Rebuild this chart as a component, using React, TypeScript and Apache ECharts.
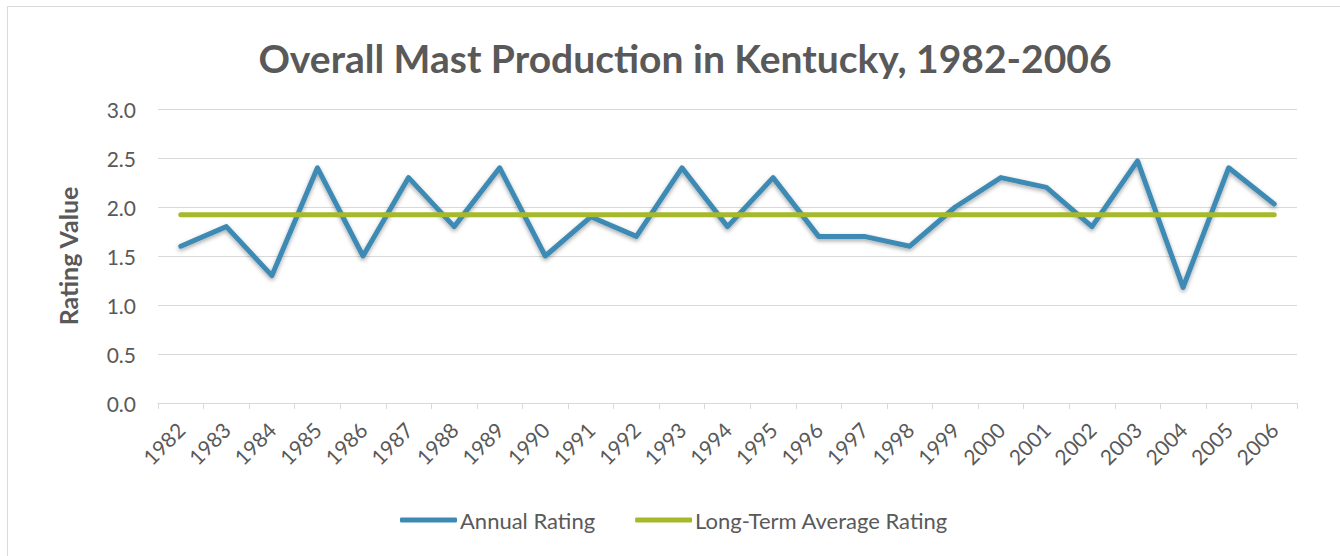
import React, { useEffect, useRef } from "react";
import * as echarts from "echarts";

const years = ["1982","1983","1984","1985","1986","1987","1988","1989","1990","1991","1992","1993","1994","1995","1996","1997","1998","1999","2000","2001","2002","2003","2004","2005","2006"];
const annualRating = [1.6,1.8,1.3,2.4,1.5,2.3,1.8,2.4,1.5,1.9,1.7,2.4,1.8,2.3,1.7,1.7,1.6,2.0,2.3,2.2,1.8,2.47,1.18,2.4,2.03];
const longTermAverage = [1.92,1.92,1.92,1.92,1.92,1.92,1.92,1.92,1.92,1.92,1.92,1.92,1.92,1.92,1.92,1.92,1.92,1.92,1.92,1.92,1.92,1.92,1.92,1.92,1.92];
const yTicks = { min: 0, max: 3, interval: 0.5 };

const FONT = "Lato";
const GRAY = "#595959";

export default function App() {
  const ref = useRef<HTMLDivElement>(null);
  useEffect(() => {
    if (!ref.current) return;
    const chart = echarts.init(ref.current, null, { renderer: "svg" });
    chart.setOption({
      animation: false,
      backgroundColor: "#ffffff",
      textStyle: { fontFamily: FONT },
      graphic: [
        { type: "rect", left: 5, top: 4, shape: { width: 1333, height: 560 }, style: { fill: "none", stroke: "#d9d9d9", lineWidth: 1 }, silent: true },
      ],
      title: {
        text: "Overall Mast Production in Kentucky, 1982-2006",
        left: 680,
        textAlign: "center",
        top: 33,
        textStyle: { fontFamily: FONT, fontSize: 39, fontWeight: "bold", color: GRAY },
      },
      legend: {
        bottom: 20,
        left: 395,
        icon: "roundRect",
        itemWidth: 57,
        itemHeight: 5,
        itemGap: 40,
        textStyle: { fontFamily: FONT, fontSize: 22, color: GRAY, padding: [0, 0, 0, -2] },
        data: ["Annual Rating", "Long-Term Average Rating"],
      },
      grid: { left: 158, right: 43, top: 109, bottom: 153 },
      xAxis: {
        type: "category",
        data: years,
        boundaryGap: true,
        axisLine: { lineStyle: { color: "#d9d9d9", width: 1 } },
        axisTick: { show: true, length: 6, lineStyle: { color: "#d9d9d9" } },
        axisLabel: { rotate: 45, fontFamily: FONT, fontSize: 21, color: GRAY, margin: 23, interval: 0 },
      },
      yAxis: {
        type: "value",
        min: yTicks.min,
        max: yTicks.max,
        interval: yTicks.interval,
        name: "Rating Value",
        nameLocation: "middle",
        nameGap: 78,
        nameTextStyle: { fontFamily: FONT, fontSize: 25, fontWeight: "bold", color: GRAY },
        axisLine: { show: false },
        axisTick: { show: false },
        splitLine: { lineStyle: { color: "#d9d9d9", width: 1 } },
        axisLabel: { fontFamily: FONT, fontSize: 21, color: GRAY, margin: 22, formatter: (v: number) => v.toFixed(1) },
      },
      series: [
        {
          name: "Annual Rating",
          type: "line",
          data: annualRating,
          symbol: "none",
          showSymbol: false,
          z: 2,
          lineStyle: { color: "#3E8AB4", width: 5, cap: "round", join: "round", shadowBlur: 4, shadowColor: "rgba(0,0,0,0.35)", shadowOffsetY: 2 },
          itemStyle: { color: "#3E8AB4" },
        },
        {
          name: "Long-Term Average Rating",
          type: "line",
          data: longTermAverage,
          symbol: "none",
          showSymbol: false,
          z: 3,
          lineStyle: { color: "#A5B92A", width: 5, cap: "round", join: "round" },
          itemStyle: { color: "#A5B92A" },
        },
      ],
    });
    return () => chart.dispose();
  }, []);
  return <div ref={ref} style={{ position: "absolute", left: 0, top: 0, width: 1340, height: 556 }} />;
}
